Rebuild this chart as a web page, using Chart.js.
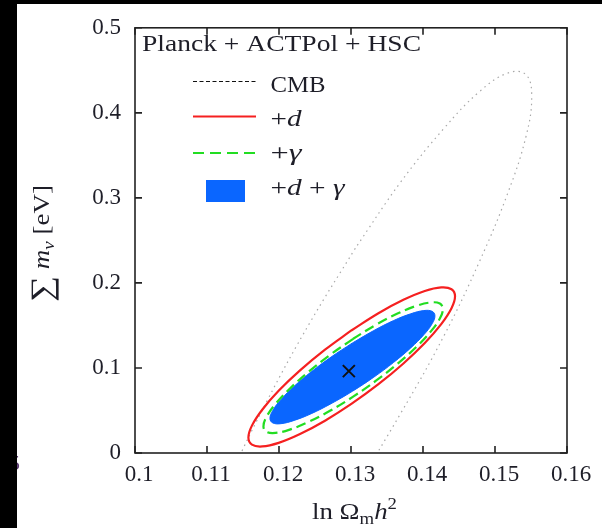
<!DOCTYPE html>
<html><head><meta charset="utf-8">
<script src="https://cdn.jsdelivr.net/npm/chart.js@4.4.0/dist/chart.umd.min.js"></script>
<style>html,body{margin:0;padding:0;background:#fff;overflow:hidden}#wrap{width:602px;height:528px}</style>
</head><body><div id="wrap"><canvas id="c" width="602" height="528"></canvas></div>
<script>
// ---- tick labels ----
const xTickLabels = ['0.1','0.11','0.12','0.13','0.14','0.15','0.16'];
const yTickLabels = ['0','0.1','0.2','0.3','0.4','0.5'];
const seriesNames = ['CMB', '+d', '+\u03b3', '+d + \u03b3'];
const legendTitle = 'Planck + ACTPol + HSC';

// ---- contour outlines (ln Omega_m h^2, sum m_nu) ----
const cmbX = [0.1306,0.1243,0.1184,0.1133,0.1094,0.1069,0.1061,0.1069,0.1094,0.1133,0.1184,0.1243,0.1306,0.1369,0.1429,0.1479,0.1518,0.1543,0.1551,0.1543,0.1518,0.1479,0.1429,0.1369,0.1306];
const cmbY = [0.2408,0.1534,0.0623,-0.0262,-0.1062,-0.1720,-0.2193,-0.2449,-0.2469,-0.2254,-0.1816,-0.1186,-0.0408,0.0466,0.1377,0.2262,0.3062,0.3720,0.4193,0.4449,0.4469,0.4254,0.3816,0.3186,0.2408];

const dX = [0.1301,0.12639,0.12292,0.11995,0.11767,0.11624,0.11575,0.11624,0.11767,0.11995,0.12292,0.12639,0.1301,0.13381,0.13728,0.14025,0.14253,0.14396,0.14445,0.14396,0.14253,0.14025,0.13728,0.13381,0.1301];
const dY = [0.1444,0.1215,0.0971,0.0731,0.0509,0.0322,0.0182,0.0098,0.0077,0.0119,0.0223,0.0380,0.0580,0.0809,0.1053,0.1293,0.1515,0.1702,0.1842,0.1926,0.1947,0.1905,0.1801,0.1644,0.1444];

const gX = [0.1303,0.12708,0.12407,0.12149,0.11951,0.11826,0.11784,0.11826,0.11951,0.12149,0.12407,0.12708,0.1303,0.13352,0.13653,0.13911,0.14109,0.14234,0.14276,0.14234,0.14109,0.13911,0.13653,0.13352,0.1303];
const gY = [0.1343,0.1153,0.0952,0.0756,0.0576,0.0425,0.0313,0.0249,0.0236,0.0275,0.0364,0.0496,0.0663,0.0853,0.1054,0.1250,0.1430,0.1581,0.1693,0.1757,0.1770,0.1731,0.1642,0.1510,0.1343];

const dgX = [0.1302,0.12723,0.12447,0.12210,0.12028,0.11913,0.11874,0.11913,0.12028,0.12210,0.12447,0.12723,0.1302,0.13317,0.13593,0.13830,0.14012,0.14127,0.14166,0.14127,0.14012,0.13830,0.13593,0.13317,0.1302];
const dgY = [0.1294,0.1128,0.0954,0.0784,0.0629,0.0500,0.0406,0.0354,0.0345,0.0383,0.0462,0.0580,0.0726,0.0892,0.1066,0.1236,0.1391,0.1520,0.1614,0.1666,0.1675,0.1637,0.1558,0.1440,0.1294];

const fidX = [0.1297];
const fidY = [0.0963];

// ---- styling ----
const SERIF = '"Liberation Serif", "Times New Roman", serif';
const RED = '#f52020', GREEN = '#22dd22', BLUE = '#0a66ff', CMBC = '#a8a8a8';
const TXT = '#1e1e28';

function pts(xs, ys) { return xs.map((x, i) => ({ x: x, y: ys[i] })); }

function drawRich(ctx, pieces, x, y, size, width) {
  const fontFor = p => (p[1] ? 'italic ' : '') + (size * (p[2] || 1)).toFixed(1) + 'px ' + SERIF;
  let total = 0;
  pieces.forEach(p => { ctx.font = fontFor(p); total += ctx.measureText(p[0]).width; });
  const sx = width ? width / total : 1;
  ctx.save();
  ctx.translate(x, y);
  ctx.scale(sx, 1);
  ctx.textBaseline = 'alphabetic';
  ctx.textAlign = 'left';
  ctx.fillStyle = TXT;
  let cx = 0;
  pieces.forEach(p => {
    ctx.font = fontFor(p);
    ctx.fillText(p[0], cx, (p[3] || 0) * size);
    cx += ctx.measureText(p[0]).width;
  });
  ctx.restore();
}

const bgPlugin = {
  id: 'bg',
  beforeDraw(chart) {
    const c = chart.ctx;
    c.save();
    c.fillStyle = '#ffffff';
    c.fillRect(0, 0, chart.width, chart.height);
    c.restore();
  }
};

const framePlugin = {
  id: 'frame',
  afterDraw(chart) {
    const c = chart.ctx, a = chart.chartArea;
    const xs = chart.scales.x, ys = chart.scales.y;
    c.save();
    c.strokeStyle = '#222';
    c.lineWidth = 1.6;
    c.strokeRect(a.left, a.top, a.right - a.left, a.bottom - a.top);
    const L = 7;
    c.beginPath();
    xs.ticks.forEach(t => {
      const p = xs.getPixelForValue(t.value);
      c.moveTo(p, a.bottom); c.lineTo(p, a.bottom - L);
      c.moveTo(p, a.top); c.lineTo(p, a.top + L);
    });
    ys.ticks.forEach(t => {
      const p = ys.getPixelForValue(t.value);
      c.moveTo(a.left, p); c.lineTo(a.left + L, p);
      c.moveTo(a.right, p); c.lineTo(a.right - L, p);
    });
    c.stroke();

    // legend
    drawRich(c, [[legendTitle, false]], 142, 51, 24, 279);
    c.lineWidth = 1;
    c.strokeStyle = '#111';
    c.setLineDash([4, 2.5]);
    c.beginPath(); c.moveTo(193, 81.5); c.lineTo(256, 81.5); c.stroke();
    c.setLineDash([]);
    c.strokeStyle = RED; c.lineWidth = 2;
    c.beginPath(); c.moveTo(193, 116.5); c.lineTo(256, 116.5); c.stroke();
    c.strokeStyle = GREEN; c.setLineDash([11, 6]);
    c.beginPath(); c.moveTo(193, 153); c.lineTo(256, 153); c.stroke();
    c.setLineDash([]);
    c.fillStyle = BLUE;
    c.fillRect(206, 180, 39, 22);

    drawRich(c, [[seriesNames[0], false]], 270.5, 91.5, 24, 55);
    drawRich(c, [['+', false], ['d', true]], 270.5, 125.5, 24, 31);
    drawRich(c, [['+', false], ['\u03b3', true]], 270.5, 160, 24, 31);
    drawRich(c, [['+', false], ['d', true], [' + ', false], ['\u03b3', true]], 270.5, 195, 24, 74);

    // axis titles
    drawRich(c, [['ln', false], [' ', false], ['\u03a9', false], ['m', false, 0.7, 0.22], ['h', true], ['2', false, 0.7, -0.4]], 312, 518.5, 23, 85);
    c.save();
    c.translate(49, 302);
    c.rotate(-Math.PI / 2);
    drawRich(c, [['\u2211', false, 1.35, 0.12], [' ', false], ['m', true], ['\u03bd', true, 0.7, 0.2], [' ', false], ['[eV]', false]], 0, 0, 23, 117);
    c.restore();

    // cut-off glyph at the left edge, then the black border strips
    c.fillStyle = '#5a3a70';
    c.font = '22px ' + SERIF;
    c.textBaseline = 'alphabetic';
    c.fillText('5', 9, 470);
    c.fillStyle = '#000000';
    c.fillRect(0, 0, chart.width, 4);
    c.fillRect(0, 0, 17, chart.height);
    c.restore();
  }
};

const lineBase = { showLine: true, pointRadius: 0, tension: 0.4, fill: false, capBezierPoints: false };

new Chart(document.getElementById('c'), {
  type: 'scatter',
  data: {
    datasets: [
      Object.assign({}, lineBase, { label: seriesNames[3], data: pts(dgX, dgY), fill: 'shape', backgroundColor: BLUE, borderColor: BLUE, borderWidth: 1, order: 5 }),
      Object.assign({}, lineBase, { label: seriesNames[0], data: pts(cmbX, cmbY), borderColor: CMBC, borderWidth: 1.2, borderDash: [1.5, 4], order: 4 }),
      Object.assign({}, lineBase, { label: seriesNames[1], data: pts(dX, dY), borderColor: RED, borderWidth: 2.2, order: 3 }),
      Object.assign({}, lineBase, { label: seriesNames[2], data: pts(gX, gY), borderColor: GREEN, borderWidth: 2.2, borderDash: [10, 5], order: 2 }),
      { label: 'fiducial', data: pts(fidX, fidY), pointStyle: 'crossRot', pointRadius: 8.5, borderColor: '#111', borderWidth: 2, order: 0 }
    ]
  },
  options: {
    responsive: false,
    animation: false,
    layout: { padding: { left: 0, right: 35, top: 23, bottom: 0 } },
    plugins: { legend: { display: false }, tooltip: { enabled: false } },
    scales: {
      x: {
        type: 'linear', min: 0.1, max: 0.16,
        ticks: { stepSize: 0.01, autoSkip: false, maxRotation: 0, padding: 8, labelOffset: 4,
          callback: (v, i) => xTickLabels[i], font: { family: SERIF, size: 23 }, color: TXT },
        grid: { display: false, drawTicks: false }, border: { display: false },
        afterFit: s => { s.height = 75; }
      },
      y: {
        type: 'linear', min: 0, max: 0.5,
        ticks: { stepSize: 0.1, autoSkip: false, padding: 14,
          callback: (v, i) => yTickLabels[i], font: { family: SERIF, size: 23 }, color: TXT },
        grid: { display: false, drawTicks: false }, border: { display: false },
        afterFit: s => { s.width = 135; }
      }
    }
  },
  plugins: [bgPlugin, framePlugin]
});
</script>
</body></html>
